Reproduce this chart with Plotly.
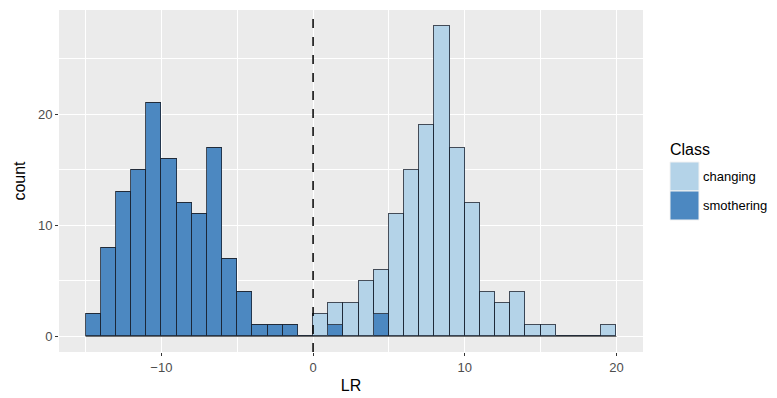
import plotly.graph_objects as go

# Histogram bins (left edges, width 1) and counts per class
bin_left = list(range(-15, 20))
smothering = [2, 8, 13, 15, 21, 16, 12, 11, 17, 7, 4, 1, 1, 1, 0,
              0, 1, 0, 0, 2, 0, 0, 0, 0, 0, 0, 0, 0, 0, 0, 0, 0, 0, 0, 0]
changing = [0, 0, 0, 0, 0, 0, 0, 0, 0, 0, 0, 0, 0, 0, 0,
            2, 2, 3, 5, 4, 11, 15, 19, 28, 17, 12, 4, 3, 4, 1, 1, 0, 0, 0, 1]
classes = ["changing", "smothering"]
x_ticks = [-10, 0, 10, 20]
y_ticks = [0, 10, 20]

centers = [b + 0.5 for b in bin_left]
dark = "#4C88C1"
light = "#B4D3E8"
edge = "rgba(25,35,50,0.8)"

fig = go.Figure()
fig.add_trace(go.Bar(x=centers, y=smothering, width=1, name="smothering",
                     marker=dict(color=dark, line=dict(color=edge, width=1)),
                     showlegend=False))
fig.add_trace(go.Bar(x=centers, y=changing, width=1, name="changing",
                     marker=dict(color=light, line=dict(color=edge, width=1)),
                     showlegend=False))
# baseline outline of empty bins (as ggplot draws zero-height bars)
fig.add_trace(go.Scatter(x=[bin_left[0], bin_left[-1] + 1], y=[0, 0], mode="lines",
                         line=dict(color="rgba(60,60,60,0.8)", width=1),
                         showlegend=False, hoverinfo="skip"))

fig.add_vline(x=0, line=dict(color="black", width=1.5, dash="dash"))

axis_font = dict(family="Liberation Sans, Arial, sans-serif", size=13, color="#4D4D4D")
fig.update_layout(
    template="none",
    width=777, height=398,
    margin=dict(l=59, r=134, t=10, b=46),
    paper_bgcolor="white", plot_bgcolor="#EBEBEB",
    barmode="stack", bargap=0,
    font=dict(family="Liberation Sans, Arial, sans-serif", color="black"),
    xaxis=dict(range=[-16.75, 21.75], tickvals=x_ticks, ticks="outside", ticklen=3,
               tickcolor="#333333", tickwidth=1, tickfont=axis_font, showline=False,
               showgrid=True, gridcolor="white", gridwidth=1.2, zeroline=False,
               minor=dict(dtick=5, tick0=-15, showgrid=True, gridcolor="white", gridwidth=0.6, ticks=""),
               title=dict(text="LR", font=dict(size=16, color="black"), standoff=6)),
    yaxis=dict(range=[-1.4, 29.4], tickvals=y_ticks, ticks="outside", ticklen=3,
               tickcolor="#333333", tickwidth=1, tickfont=axis_font, showline=False,
               showgrid=True, gridcolor="white", gridwidth=1.2, zeroline=False,
               minor=dict(dtick=5, tick0=0, showgrid=True, gridcolor="white", gridwidth=0.6, ticks=""),
               title=dict(text="count", font=dict(size=16, color="black"), standoff=8)),
)

# Manual legend (ggplot style)
def px_x(p):
    return (p - 59) / 584.0

def px_y(p):
    return (352 - p) / 342.0

fig.add_annotation(x=px_x(668), y=px_y(149), xref="paper", yref="paper", text="Class",
                   showarrow=False, xanchor="left", yanchor="middle",
                   font=dict(size=16, color="black"))
key_colors = [light, dark]
for i, (cls, col) in enumerate(zip(classes, key_colors)):
    top = 162 + 29 * i
    fig.add_shape(type="rect", xref="paper", yref="paper",
                  x0=px_x(670), x1=px_x(699), y0=px_y(top + 29), y1=px_y(top),
                  fillcolor=col, line=dict(color="#F2F2F2", width=1))
    fig.add_annotation(x=px_x(701), y=px_y(top + 14.5), xref="paper", yref="paper", text=cls,
                       showarrow=False, xanchor="left", yanchor="middle",
                       font=dict(size=13, color="black"))

fig.write_html("out.html")
